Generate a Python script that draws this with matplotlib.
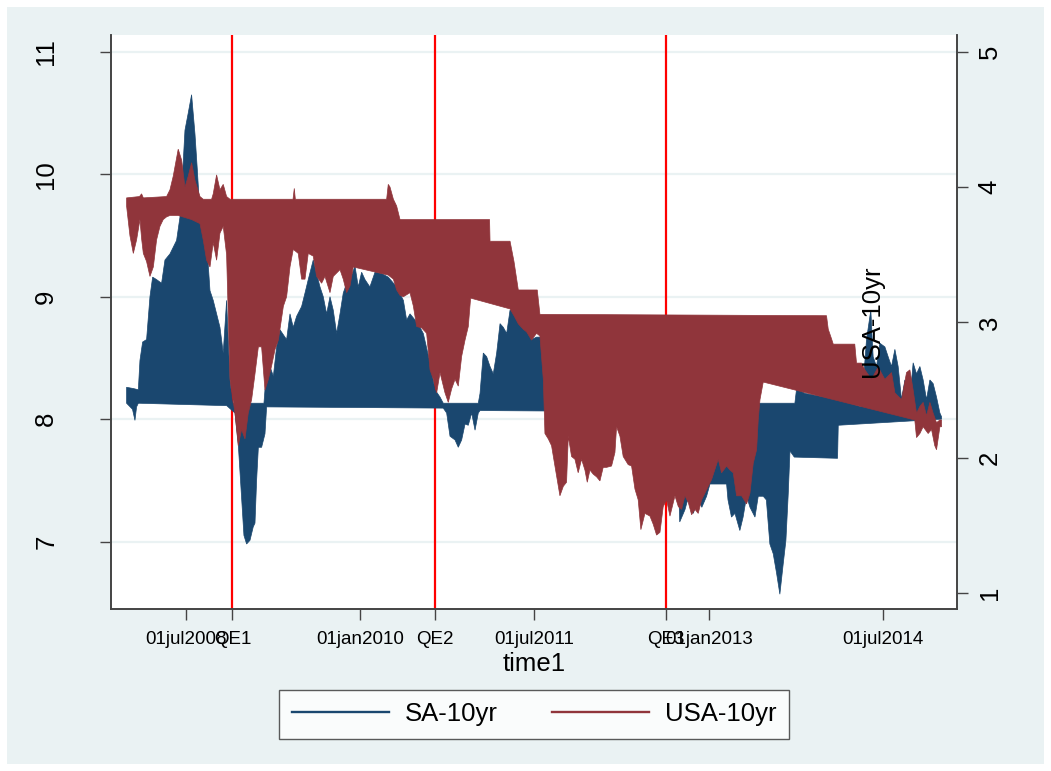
import matplotlib.pyplot as plt
import numpy as np
import pandas as pd
from matplotlib.lines import Line2D
from matplotlib.patches import Rectangle

plt.rcParams['font.family'] = ['Liberation Sans', 'DejaVu Sans']

# SA-10yr band (left axis): upper and lower edge, time in decimal years
sa_hi_t = [2007.989, 2008.047, 2008.090, 2008.104, 2008.127, 2008.161, 2008.190, 2008.213, 2008.247, 2008.290,
           2008.319, 2008.362, 2008.419, 2008.448, 2008.476, 2008.491, 2008.519, 2008.548, 2008.577, 2008.597,
           2008.620, 2008.648, 2008.677, 2008.706, 2008.734, 2008.763, 2008.792, 2008.820, 2008.849, 2008.878,
           2008.900, 2009.170, 2009.179, 2009.222, 2009.251, 2009.279, 2009.308, 2009.365, 2009.394, 2009.422,
           2009.451, 2009.494, 2009.523, 2009.551, 2009.594, 2009.623, 2009.652, 2009.680, 2009.709, 2009.738,
           2009.766, 2009.795, 2009.824, 2009.852, 2009.881, 2009.910, 2009.953, 2009.981, 2010.010, 2010.039,
           2010.081, 2010.125, 2010.182, 2010.239, 2010.311, 2010.369, 2010.397, 2010.426, 2010.469, 2010.512,
           2010.540, 2010.598, 2010.641, 2010.684, 2010.712, 2011.013, 2011.028, 2011.056, 2011.085, 2011.114,
           2011.142, 2011.171, 2011.200, 2011.228, 2011.257, 2011.286, 2011.343, 2011.400, 2011.443, 2011.471,
           2011.514, 2011.557, 2011.600, 2012.600, 2012.700, 2013.735, 2013.750, 2013.821, 2014.108, 2014.308,
           2014.351, 2014.388, 2014.408, 2014.437, 2014.466, 2014.509, 2014.537, 2014.566, 2014.595, 2014.623,
           2014.652, 2014.681, 2014.724, 2014.752, 2014.781, 2014.810, 2014.838, 2014.867, 2014.896, 2014.924,
           2014.953, 2014.982, 2014.996]
sa_hi = [8.26, 8.25, 8.24, 8.48, 8.63, 8.65, 9.00, 9.16, 9.14, 9.11,
         9.30, 9.35, 9.46, 9.65, 10.10, 10.36, 10.50, 10.65, 10.33, 10.04,
         9.68, 9.57, 9.46, 9.05, 8.97, 8.86, 8.75, 8.54, 8.97, 8.32,
         8.13, 8.13, 8.24, 8.43, 8.35, 8.59, 8.73, 8.65, 8.86, 8.75,
         8.84, 8.92, 9.03, 9.14, 9.30, 9.19, 9.08, 9.00, 8.86, 9.00,
         8.89, 8.70, 8.86, 9.03, 9.11, 9.14, 9.25, 9.08, 9.20, 9.14,
         9.08, 9.20, 9.19, 9.16, 9.08, 8.97, 8.81, 8.86, 8.81, 8.75,
         8.70, 8.46, 8.24, 8.18, 8.13, 8.13, 8.21, 8.54, 8.51, 8.43,
         8.37, 8.54, 8.78, 8.75, 8.70, 8.89, 8.89, 8.86, 8.75, 8.65,
         8.67, 8.67, 8.50, 8.50, 8.13, 8.13, 8.25, 8.21, 8.16, 8.10,
         8.65, 8.89, 8.51, 8.43, 8.62, 8.59, 8.51, 8.43, 8.57, 8.43,
         8.16, 8.32, 8.16, 8.46, 8.37, 8.43, 8.32, 8.16, 8.32, 8.29,
         8.18, 8.05, 8.02]

sa_lo_t = [2007.989, 2008.040, 2008.061, 2008.075, 2008.090, 2008.850, 2008.921, 2008.949, 2008.998, 2009.021,
           2009.050, 2009.078, 2009.093, 2009.107, 2009.122, 2009.150, 2009.179, 2009.193, 2010.712, 2010.741,
           2010.770, 2010.813, 2010.841, 2010.870, 2010.899, 2010.927, 2010.956, 2010.985, 2011.013, 2011.028,
           2012.700, 2012.720, 2012.745, 2012.790, 2012.830, 2012.862, 2012.900, 2012.935, 2012.976, 2013.005,
           2013.148, 2013.160, 2013.190, 2013.220, 2013.262, 2013.290, 2013.320, 2013.349, 2013.392, 2013.420,
           2013.463, 2013.490, 2013.520, 2013.549, 2013.578, 2013.606, 2013.635, 2013.658, 2013.678, 2013.693,
           2013.730, 2014.102, 2014.108, 2014.996]
sa_lo = [8.13, 8.08, 7.99, 8.10, 8.13, 8.11, 8.05, 7.80, 7.05, 6.98,
         7.01, 7.12, 7.15, 7.50, 7.77, 7.77, 7.88, 8.10, 8.09, 8.05,
         7.86, 7.83, 7.77, 7.83, 7.96, 7.95, 8.05, 7.91, 8.05, 8.07,
         8.06, 7.90, 7.16, 7.26, 7.40, 7.23, 7.35, 7.28, 7.37, 7.47,
         7.47, 7.34, 7.20, 7.23, 7.09, 7.20, 7.37, 7.28, 7.20, 7.37,
         7.37, 7.34, 6.98, 6.90, 6.74, 6.57, 6.82, 7.01, 7.39, 7.74,
         7.69, 7.68, 7.95, 8.00]

# USA-10yr band (right axis)
usa_hi_t = [2007.989, 2008.100, 2008.118, 2008.133, 2008.333, 2008.362, 2008.390, 2008.433, 2008.462, 2008.491,
            2008.519, 2008.548, 2008.577, 2008.620, 2008.648, 2008.720, 2008.734, 2008.763, 2008.792, 2008.820,
            2008.849, 2008.878, 2009.420, 2009.431, 2009.440, 2010.225, 2010.239, 2010.254, 2010.283, 2010.311,
            2010.340, 2011.110, 2011.114, 2011.286, 2011.320, 2011.357, 2011.520, 2011.543, 2014.007, 2014.022,
            2014.050, 2014.065, 2014.250, 2014.265, 2014.308, 2014.337, 2014.394, 2014.451, 2014.509, 2014.566,
            2014.595, 2014.652, 2014.695, 2014.724, 2014.752, 2014.781, 2014.810, 2014.838, 2014.867, 2014.896,
            2014.924, 2014.953, 2014.982, 2014.996]
usa_hi = [3.92, 3.93, 3.95, 3.92, 3.93, 3.98, 4.08, 4.28, 4.20, 4.00,
          4.08, 4.18, 4.05, 3.93, 3.91, 3.91, 3.95, 4.09, 3.98, 4.02,
          3.93, 3.91, 3.91, 3.99, 3.91, 3.91, 4.02, 4.00, 3.91, 3.86,
          3.76, 3.76, 3.60, 3.60, 3.45, 3.24, 3.24, 3.06, 3.05, 2.95,
          2.88, 2.84, 2.84, 2.70, 2.70, 2.65, 2.58, 2.67, 2.58, 2.63,
          2.48, 2.43, 2.63, 2.65, 2.50, 2.33, 2.38, 2.41, 2.31, 2.41,
          2.33, 2.26, 2.28, 2.28]

usa_lo_t = [2007.989, 2008.018, 2008.047, 2008.075, 2008.104, 2008.118, 2008.133, 2008.161, 2008.190, 2008.219,
            2008.247, 2008.276, 2008.304, 2008.333, 2008.362, 2008.433, 2008.548, 2008.620, 2008.648, 2008.677,
            2008.706, 2008.734, 2008.763, 2008.792, 2008.820, 2008.849, 2008.878, 2008.921, 2008.949, 2008.978,
            2009.007, 2009.035, 2009.064, 2009.093, 2009.122, 2009.150, 2009.179, 2009.208, 2009.236, 2009.265,
            2009.294, 2009.337, 2009.365, 2009.394, 2009.422, 2009.465, 2009.494, 2009.523, 2009.551, 2009.594,
            2009.623, 2009.666, 2009.695, 2009.738, 2009.766, 2009.824, 2009.852, 2009.881, 2009.910, 2009.938,
            2010.239, 2010.283, 2010.311, 2010.340, 2010.369, 2010.426, 2010.455, 2010.483, 2010.526, 2010.569,
            2010.598, 2010.627, 2010.655, 2010.684, 2010.727, 2010.755, 2010.784, 2010.813, 2010.841, 2010.870,
            2010.899, 2010.927, 2010.947, 2011.286, 2011.320, 2011.357, 2011.400, 2011.429, 2011.471, 2011.514,
            2011.543, 2011.572, 2011.586, 2011.615, 2011.643, 2011.672, 2011.715, 2011.744, 2011.772, 2011.787,
            2011.815, 2011.844, 2011.872, 2011.901, 2011.930, 2011.950, 2011.973, 2012.001, 2012.030, 2012.059,
            2012.087, 2012.116, 2012.159, 2012.188, 2012.202, 2012.231, 2012.259, 2012.302, 2012.331, 2012.360,
            2012.388, 2012.411, 2012.446, 2012.489, 2012.517, 2012.546, 2012.575, 2012.603, 2012.632, 2012.661,
            2012.704, 2012.733, 2012.761, 2012.790, 2012.819, 2012.847, 2012.876, 2012.904, 2012.933, 2012.962,
            2012.990, 2013.019, 2013.076, 2013.105, 2013.148, 2013.177, 2013.205, 2013.234, 2013.277, 2013.320,
            2013.349, 2013.377, 2013.406, 2013.420, 2013.435, 2013.463, 2014.766, 2014.781, 2014.810, 2014.838,
            2014.881, 2014.910, 2014.938, 2014.953, 2014.982, 2014.996]
usa_lo = [3.86, 3.64, 3.51, 3.61, 3.76, 3.62, 3.51, 3.45, 3.34, 3.41,
          3.61, 3.71, 3.76, 3.78, 3.79, 3.79, 3.76, 3.73, 3.61, 3.46,
          3.41, 3.59, 3.46, 3.66, 3.71, 3.50, 2.58, 2.33, 2.09, 2.21,
          2.14, 2.33, 2.43, 2.62, 2.82, 2.82, 2.50, 2.58, 2.68, 2.80,
          2.87, 3.12, 3.19, 3.41, 3.54, 3.51, 3.32, 3.32, 3.51, 3.49,
          3.34, 3.29, 3.34, 3.22, 3.34, 3.39, 3.32, 3.22, 3.27, 3.41,
          3.35, 3.32, 3.24, 3.20, 3.19, 3.22, 3.12, 2.97, 2.96, 2.92,
          2.65, 2.58, 2.48, 2.63, 2.48, 2.41, 2.51, 2.58, 2.53, 2.75,
          2.87, 2.97, 3.18, 3.10, 3.05, 2.99, 2.95, 2.93, 2.87, 2.92,
          2.90, 2.58, 2.18, 2.14, 2.09, 1.94, 1.72, 1.79, 1.82, 2.16,
          2.01, 1.99, 1.89, 1.99, 1.91, 1.82, 1.91, 1.88, 1.86, 1.83,
          1.93, 1.93, 1.94, 2.04, 2.23, 2.16, 2.01, 1.95, 1.94, 1.77,
          1.69, 1.47, 1.59, 1.57, 1.51, 1.43, 1.45, 1.64, 1.69, 1.57,
          1.72, 1.64, 1.62, 1.72, 1.67, 1.58, 1.62, 1.59, 1.69, 1.74,
          1.79, 1.84, 1.99, 1.89, 1.94, 1.91, 1.89, 1.72, 1.72, 1.66,
          1.74, 1.96, 2.06, 2.28, 2.43, 2.56, 2.28, 2.15, 2.18, 2.23,
          2.18, 2.21, 2.09, 2.06, 2.23, 2.23]

tick_dates = ['2008-07-01', '2010-01-01', '2011-07-01', '2013-01-01', '2014-07-01']
tick_labels = ['01jul2008', '01jan2010', '01jul2011', '01jan2013', '01jul2014']
qe_dates = ['2008-11-25', '2010-08-24', '2012-08-18']
qe_labels = ['QE1', 'QE2', 'QE3']


def dec(s):
    d = pd.Timestamp(s)
    return d.year + (d.dayofyear - 1) / (366 if d.is_leap_year else 365)


navy = '#1A476F'
maroon = '#90353B'
bg = '#EAF2F3'

fig = plt.figure(figsize=(10.51, 7.71), dpi=100, facecolor='white')
fig.patches.append(Rectangle((7 / 1051, 7 / 771), 1 - 14 / 1051, 1 - 14 / 771,
                             transform=fig.transFigure, facecolor=bg, edgecolor='none', zorder=-10))
ax = fig.add_axes([111 / 1051, 1 - 609 / 771, (957 - 111) / 1051, (609 - 35) / 771])
ax.set_facecolor('white')

# grid and QE lines sit under the data
for v in [7, 8, 9, 10, 11]:
    ax.axhline(v, color=bg, lw=1.6, zorder=0)
for d in qe_dates:
    ax.axvline(dec(d), color='#FF0000', lw=1.6, zorder=1)

ax.fill(np.concatenate([sa_hi_t, sa_lo_t[::-1]]), np.concatenate([sa_hi, sa_lo[::-1]]),
        facecolor=navy, edgecolor=navy, lw=0.5, zorder=2)

ax2 = ax.twinx()
ax2.fill(np.concatenate([usa_hi_t, usa_lo_t[::-1]]), np.concatenate([usa_hi, usa_lo[::-1]]),
         facecolor=maroon, edgecolor=maroon, lw=0.5, zorder=2)
ax2.text(2014.40, 2.60, 'USA-10yr', rotation=90, ha='center', va='bottom', fontsize=18.5)

ax.set_xlim(2007.855, 2015.129)
ax.set_ylim(6.449, 11.138)
ax2.set_ylim(0.884, 5.123)

ticks = [dec(d) for d in tick_dates] + [dec(d) for d in qe_dates]
ax.set_xticks(ticks)
ax.set_xticklabels(tick_labels + qe_labels, fontsize=13.5)
ax.set_xlabel('time1', fontsize=18.5, labelpad=3)

ax.set_yticks([7, 8, 9, 10, 11])
ax.set_yticklabels(['7', '8', '9', '10', '11'], fontsize=18.5, rotation=90, va='center')
ax2.set_yticks([1, 2, 3, 4, 5])
ax2.set_yticklabels(['1', '2', '3', '4', '5'], fontsize=18.5, rotation=90, va='center')

for a in (ax, ax2):
    for s in a.spines.values():
        s.set_color('#444444')
        s.set_linewidth(1.2)
    a.spines['top'].set_visible(False)
ax.tick_params(axis='x', length=8, width=1, color='#444444', pad=8)
ax.tick_params(axis='y', length=8, width=1, color='#444444', pad=30)
ax2.tick_params(axis='y', length=8, width=1, color='#444444', pad=7)

handles = [Line2D([], [], color=navy, lw=1.7), Line2D([], [], color=maroon, lw=1.7)]
leg = fig.legend(handles, ['SA-10yr', 'USA-10yr'], loc='center', bbox_to_anchor=(0.508, 0.0733),
                 ncol=2, fontsize=18.5, frameon=True, fancybox=False, handlelength=3.8,
                 handletextpad=0.6, columnspacing=2.1, borderpad=0.5)
leg.get_frame().set_edgecolor('#333333')
leg.get_frame().set_linewidth(1.0)
leg.get_frame().set_facecolor('white')

fig.savefig('out.png', dpi=100, facecolor=fig.get_facecolor())
